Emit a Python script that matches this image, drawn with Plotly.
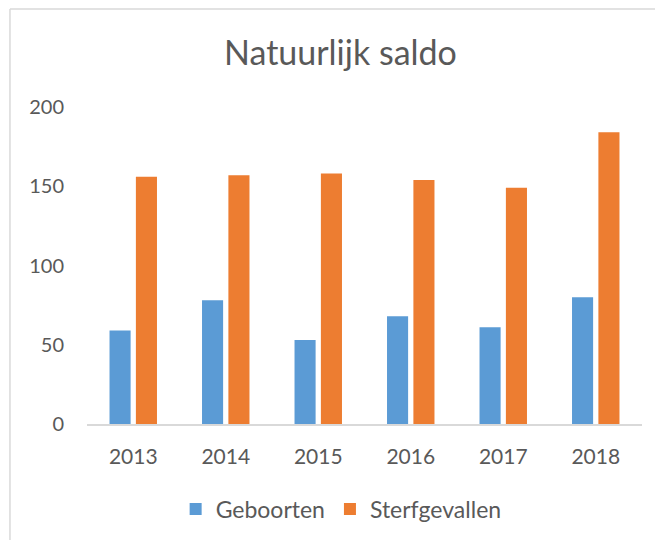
import plotly.graph_objects as go

years = ["2013", "2014", "2015", "2016", "2017", "2018"]
geboorten = [59, 78, 53, 68, 61, 80]
sterfgevallen = [156, 157, 158, 154, 149, 184]
y_ticks = [0, 50, 100, 150, 200]

FONT = "Lato, 'Open Sans', sans-serif"
GRAY = "#595959"

fig = go.Figure()
fig.add_trace(go.Bar(x=years, y=geboorten, name="Geboorten",
                     marker=dict(color="#5B9BD5", line=dict(width=0))))
fig.add_trace(go.Bar(x=years, y=sterfgevallen, name="Sterfgevallen",
                     marker=dict(color="#ED7D31", line=dict(width=0))))

# page body has an 8px margin; figure coordinates = reference pixels - 8
OFF = 8
W, H = 663 - OFF, 540 - OFF
L, T = 87 - OFF, 107 - OFF
R = W - (641.7 - OFF)
B = H - (424 - OFF)
pw, ph = W - L - R, H - T - B

def px_x(x):
    return (x - OFF - L) / pw

def px_y(y):
    return 1 - (y - OFF - T) / ph

fig.update_layout(
    width=W, height=H,
    margin=dict(l=L, r=R, t=T, b=B, autoexpand=False),
    paper_bgcolor="white", plot_bgcolor="white",
    font=dict(family=FONT, color=GRAY, size=20),
    barmode="group", bargap=0.43, bargroupgap=0.2,
    showlegend=True,
    legend=dict(orientation="h", xanchor="center", yanchor="middle",
                x=px_x(341), y=px_y(509), font=dict(size=23, color=GRAY),
                itemwidth=30, traceorder="normal"),
    xaxis=dict(showline=True, linecolor="#D9D9D9", linewidth=1.5,
               showgrid=False, ticks="", ticklabelstandoff=13,
               tickfont=dict(size=21, color=GRAY)),
    yaxis=dict(range=[0, 200], tickvals=y_ticks, showgrid=False,
               showline=False, zeroline=False, ticks="",
               ticklabelstandoff=22, tickfont=dict(size=20, color=GRAY)),
    annotations=[dict(text="Natuurlijk saldo", xref="paper", yref="paper",
                      x=px_x(340.5), y=px_y(52), xanchor="center",
                      yanchor="middle", showarrow=False,
                      font=dict(size=34, color=GRAY, family=FONT))],
    shapes=[
        dict(type="line", xref="paper", yref="paper",
             x0=px_x(10), y0=px_y(9), x1=px_x(700), y1=px_y(9),
             line=dict(color="#D9D9D9", width=1.5)),
        dict(type="line", xref="paper", yref="paper",
             x0=px_x(10), y0=px_y(9), x1=px_x(10), y1=px_y(600),
             line=dict(color="#D9D9D9", width=1.5)),
    ],
)

fig.write_html("out.html")
